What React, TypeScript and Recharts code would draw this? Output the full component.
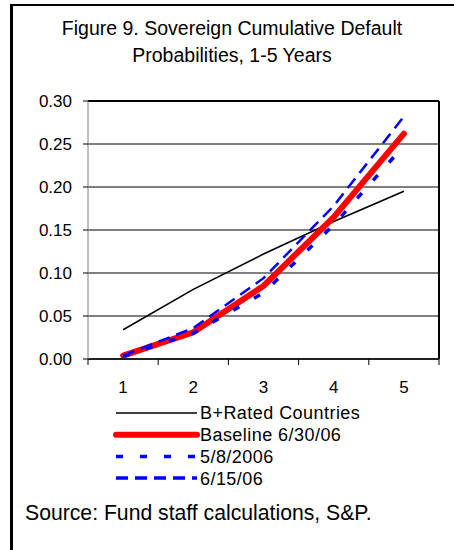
import React from 'react';
import {
  LineChart,
  Line,
  XAxis,
  YAxis,
  CartesianGrid,
  ReferenceLine,
} from 'recharts';

// Cumulative default probabilities by horizon (years)
const years = [1, 2, 3, 4, 5];
const bRated = [0.034, 0.081, 0.122, 0.16, 0.195];
const baseline = [0.004, 0.031, 0.085, 0.165, 0.262];
const may8 = [0.003, 0.03, 0.077, 0.156, 0.248];
const jun15 = [0.004, 0.036, 0.094, 0.178, 0.282];

const yTicks = [0, 0.05, 0.1, 0.15, 0.2, 0.25, 0.3];
// ticks at half steps: boundaries get a tick mark, whole years get a label
const xTicks = [0.5, 1, 1.5, 2, 2.5, 3, 3.5, 4, 4.5, 5, 5.5];

const series = [
  { key: 'bRated', name: 'B+Rated Countries', color: '#000000', width: 1.6, dash: undefined },
  { key: 'baseline', name: 'Baseline 6/30/06', color: '#ff0000', width: 6, dash: undefined },
  { key: 'may8', name: '5/8/2006', color: '#0000ff', width: 3.5, dash: '7 17' },
  { key: 'jun15', name: '6/15/06', color: '#0000ff', width: 2.5, dash: '12 7' },
];

const data = years.map((year, i) => ({
  year,
  bRated: bRated[i],
  baseline: baseline[i],
  may8: may8[i],
  jun15: jun15[i],
}));

const FONT = '"Liberation Sans", Arial, sans-serif';

const XTick = (props: any) => {
  const { x, y, payload } = props;
  const v = payload.value;
  if (Number.isInteger(v)) {
    return (
      <text x={x} y={y + 34} textAnchor="middle" fontSize={17} fill="#000">
        {v}
      </text>
    );
  }
  return <line x1={x} x2={x} y1={y} y2={y + 6} stroke="#000" />;
};

const App: React.FC = () => {
  return (
    <div
      style={{
        position: 'absolute',
        top: 0,
        left: 0,
        width: 454,
        height: 550,
        background: '#fff',
        fontFamily: FONT,
        color: '#000',
      }}
    >
      {/* box frame, open at right and bottom */}
      <div
        style={{
          position: 'absolute',
          left: 10,
          top: 4,
          right: 0,
          bottom: 0,
          borderLeft: '3px solid #000',
          borderTop: '2px solid #000',
        }}
      />
      <div
        style={{
          position: 'absolute',
          top: 15,
          left: 10,
          width: 444,
          textAlign: 'center',
          fontSize: 19.5,
          lineHeight: '26.5px',
        }}
      >
        Figure 9. Sovereign Cumulative Default
        <br />
        Probabilities, 1-5 Years
      </div>

      <div style={{ position: 'absolute', top: 0, left: 0 }}>
        <LineChart
          width={454}
          height={400}
          data={data}
          margin={{ top: 101, right: 15, bottom: 11, left: 48 }}
        >
          <CartesianGrid vertical={false} stroke="#000" strokeWidth={1} />
          <XAxis
            dataKey="year"
            type="number"
            domain={[0.5, 5.5]}
            ticks={xTicks}
            interval={0}
            tick={<XTick />}
            tickLine={false}
            tickSize={0}
            tickMargin={0}
            height={30}
            axisLine={{ stroke: '#000', strokeWidth: 1.5 }}
          />
          <YAxis
            domain={[0, 0.3]}
            ticks={yTicks}
            interval={0}
            width={40}
            tickFormatter={(v: number) => v.toFixed(2)}
            tick={{ fontSize: 17, fill: '#000' }}
            tickSize={5}
            tickMargin={11}
            tickLine={{ stroke: '#000' }}
            axisLine={{ stroke: '#808080' }}
          />
          <ReferenceLine y={0.3} stroke="#000" strokeWidth={2} />
          <ReferenceLine x={5.5} stroke="#000" strokeWidth={2} />
          {series.map((s) => (
            <Line
              key={s.key}
              type="linear"
              dataKey={s.key}
              name={s.name}
              stroke={s.color}
              strokeWidth={s.width}
              strokeDasharray={s.dash}
              strokeLinecap={s.key === 'baseline' ? 'round' : 'butt'}
              dot={false}
              activeDot={false}
              isAnimationActive={false}
            />
          ))}
        </LineChart>
      </div>

      <svg
        width={454}
        height={100}
        style={{ position: 'absolute', top: 395, left: 0 }}
      >
        {series.map((s, i) => {
          const y = 18 + i * 21.7;
          return (
            <g key={s.key}>
              <line
                x1={116}
                x2={197}
                y1={y}
                y2={y}
                stroke={s.color}
                strokeWidth={s.key === 'baseline' ? 6 : s.key === 'bRated' ? 1.6 : 3.5}
                strokeDasharray={s.dash}
                strokeLinecap={s.key === 'baseline' ? 'round' : 'butt'}
              />
              <text
                x={200}
                y={y + 6.4}
                fontSize={18}
                letterSpacing={0.45}
                fill="#000"
              >
                {s.name}
              </text>
            </g>
          );
        })}
      </svg>

      <div
        style={{
          position: 'absolute',
          top: 501,
          left: 25,
          fontSize: 21.2,
          lineHeight: '24px',
          whiteSpace: 'nowrap',
        }}
      >
        Source: Fund staff calculations, S&amp;P.
      </div>
    </div>
  );
};

export default App;
